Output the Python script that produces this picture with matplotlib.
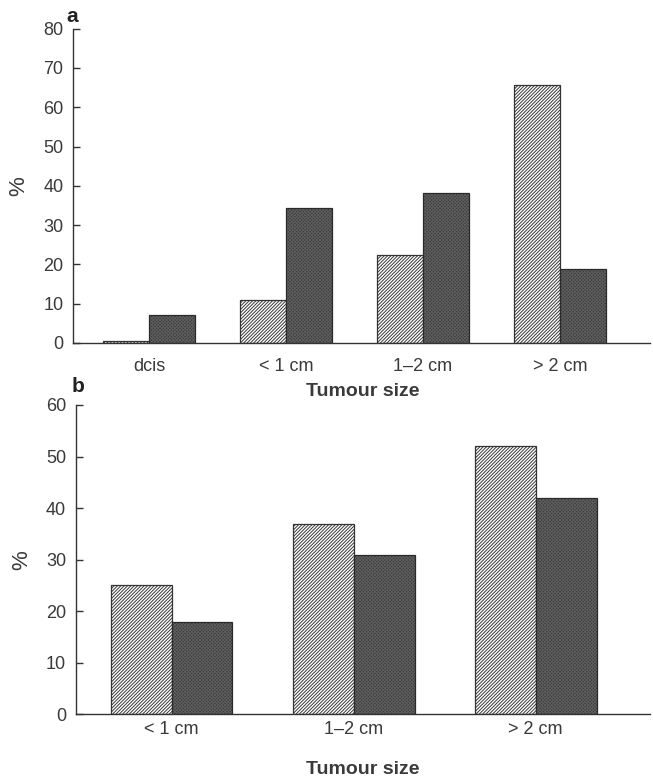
import numpy as np
import matplotlib
matplotlib.use('Agg')
import matplotlib.pyplot as plt

# Panel a data (percent by tumour size)
sizes_a = ['dcis', '< 1 cm', '1\u20132 cm', '> 2 cm']
hatched_a = [0.6, 11.0, 22.5, 65.6]
dark_a = [7.0, 34.3, 38.3, 18.8]

# Panel b data
sizes_b = ['< 1 cm', '1\u20132 cm', '> 2 cm']
hatched_b = [25.0, 36.9, 52.1]
dark_b = [17.9, 30.9, 41.9]

text_col = '#3a3a3a'
plt.rcParams['font.family'] = ['Liberation Sans', 'DejaVu Sans']
plt.rcParams['hatch.linewidth'] = 0.7


def draw_panel(ax, cats, hv, dv, w, ymax, step, xlim, pad):
	x = np.arange(len(cats))
	# hatched bars
	ax.bar(x - w/2, hv, w, color='white', edgecolor='#383838', hatch='//////////', linewidth=0)
	ax.bar(x - w/2, hv, w, fill=False, edgecolor='#333333', linewidth=0.9)
	# dark textured bars
	ax.bar(x + w/2, dv, w, color='#3a3a3a', edgecolor='#5e5e5e', hatch='xxxxxxxxxx', linewidth=0)
	ax.bar(x + w/2, dv, w, fill=False, edgecolor='#2a2a2a', linewidth=0.9)

	ax.set_xlim(*xlim)
	ax.set_ylim(0, ymax)
	ax.set_yticks(np.arange(0, ymax + 1, step))
	ax.set_xticks(x)
	ax.set_xticklabels(cats)
	for s in ['top', 'right']:
		ax.spines[s].set_visible(False)
	for s in ['left', 'bottom']:
		ax.spines[s].set_color('#333333')
		ax.spines[s].set_linewidth(1.0)
	ax.tick_params(axis='y', direction='in', length=5, width=1, color='#333333',
				   labelsize=13, labelcolor=text_col, pad=7)
	ax.tick_params(axis='x', length=0, labelsize=13, labelcolor=text_col, pad=pad)
	ax.set_ylabel('%', fontsize=16, color=text_col, labelpad=10)


fig = plt.figure(figsize=(6.53, 7.76), dpi=100)

ax1 = fig.add_axes([0.112, 0.558, 0.884, 0.405])
draw_panel(ax1, sizes_a, hatched_a, dark_a, 0.336, 80, 10, (-0.555, 3.66), 11)

ax2 = fig.add_axes([0.116, 0.0795, 0.879, 0.3986])
draw_panel(ax2, sizes_b, hatched_b, dark_b, 0.335, 60, 10, (-0.526, 2.627), 5)

fig.text(363/653, 1 - 391/776, 'Tumour size', ha='center', va='center',
		 fontsize=14, fontweight='bold', color=text_col)
fig.text(363/653, 1 - 769/776, 'Tumour size', ha='center', va='center',
		 fontsize=14, fontweight='bold', color=text_col)
fig.text(72/653, 1 - 17/776, 'a', ha='center', va='center',
		 fontsize=15, fontweight='bold', color='#222222')
fig.text(78/653, 1 - 386/776, 'b', ha='center', va='center',
		 fontsize=15, fontweight='bold', color='#222222')

fig.savefig('out.png', dpi=100)
